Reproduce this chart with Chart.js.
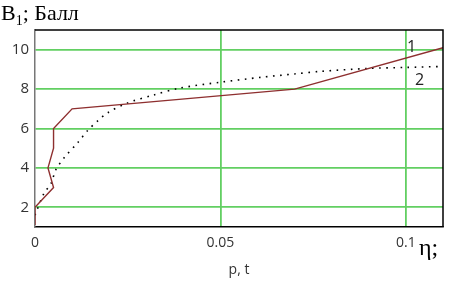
<!DOCTYPE html>
<html>
<head>
<meta charset="utf-8">
<script src="https://cdn.jsdelivr.net/npm/chart.js@4/dist/chart.umd.min.js"></script>
<style>
  body { margin: 0; background: #fff; }
  #wrap { position: relative; width: 470px; height: 291px; }
  .lbl { position: absolute; color: #000; white-space: nowrap; }
</style>
</head>
<body>
<div id="wrap">
  <canvas id="c" width="470" height="291"></canvas>
  <div class="lbl" style="left:1px;top:0px;font:22px 'Liberation Serif',serif;">B<sub style="font-size:14px">1</sub>; Балл</div>
  <div class="lbl" style="left:419px;top:234px;font:24px 'Liberation Serif',serif;">η;</div>
  <div class="lbl" style="left:407px;top:35px;font:16px 'Open Sans',sans-serif;color:#222;">1</div>
  <div class="lbl" style="left:415px;top:68px;font:16px 'Open Sans',sans-serif;color:#222;">2</div>
</div>
<script>
// curve 1 (solid)
const x1 = [0, 0, 0.005, 0.0035, 0.005, 0.005, 0.01, 0.07, 0.11];
const y1 = [1.1, 2, 3, 4, 5, 6, 7, 8, 10.1];
// curve 2 (dotted)
const x2 = [0, 0.0024, 0.0043, 0.0056, 0.0078, 0.0116, 0.0142, 0.017, 0.0196, 0.025, 0.032, 0.039, 0.05, 0.061, 0.07, 0.077, 0.09, 0.1, 0.11];
const y2 = [1.6, 2.7, 3.2, 3.9, 4.5, 5.3, 5.9, 6.4, 6.8, 7.3, 7.7, 8.05, 8.35, 8.6, 8.77, 8.9, 9.05, 9.1, 9.15];
const xTicks = [0, 0.05, 0.1];
const yTicks = [2, 4, 6, 8, 10];

const pts = (xs, ys) => xs.map((x, i) => ({ x: x, y: ys[i] }));

const frame = {
  id: 'frame',
  afterDraw(chart) {
    const a = chart.chartArea, ctx = chart.ctx;
    ctx.save();
    ctx.strokeStyle = '#000';
    ctx.lineWidth = 1.5;
    ctx.beginPath();
    ctx.moveTo(a.left, a.top);
    ctx.lineTo(a.right, a.top);
    ctx.lineTo(a.right, a.bottom);
    ctx.stroke();
    ctx.restore();
  }
};

new Chart(document.getElementById('c'), {
  type: 'scatter',
  data: {
    datasets: [
      {
        data: pts(x1, y1),
        showLine: true,
        borderColor: '#8e2f2f',
        borderWidth: 1.4,
        pointRadius: 0,
        tension: 0,
      },
      {
        data: pts(x2, y2),
        showLine: true,
        borderColor: '#000',
        borderWidth: 1.6,
        borderDash: [1.6, 5.5],
        pointRadius: 0,
        tension: 0.3,
      },
    ],
  },
  options: {
    responsive: false,
    animation: false,
    layout: { padding: { top: 30, right: 27, left: 0, bottom: 13 } },
    plugins: { legend: { display: false }, tooltip: { enabled: false } },
    scales: {
      x: {
        type: 'linear',
        min: 0,
        max: 0.11,
        afterBuildTicks: s => { s.ticks = xTicks.map(v => ({ value: v })); },
        afterFit: s => { s.height = 51; },
        border: { color: '#000', width: 1.5 },
        grid: {
          drawTicks: false,
          color: c => (c.tick && c.tick.value === 0 ? 'rgba(0,0,0,0)' : '#62cf62'),
          lineWidth: 1.8,
        },
        ticks: {
          padding: 8,
          color: '#333',
          font: { family: 'Open Sans', size: 14 },
          callback: v => String(v),
        },
        title: {
          display: true,
          text: 'p, t',
          color: '#333',
          font: { family: 'Open Sans', size: 14 },
          padding: { top: 0, bottom: 0 },
        },
      },
      y: {
        type: 'linear',
        min: 1,
        max: 11,
        afterBuildTicks: s => { s.ticks = yTicks.map(v => ({ value: v })); },
        afterFit: s => { s.width = 35; },
        border: { color: '#777', width: 1.5 },
        grid: { drawTicks: false, color: '#62cf62', lineWidth: 1.8 },
        ticks: {
          padding: 6,
          color: '#333',
          font: { family: 'Open Sans', size: 15 },
        },
      },
    },
  },
  plugins: [frame],
});
</script>
</body>
</html>
